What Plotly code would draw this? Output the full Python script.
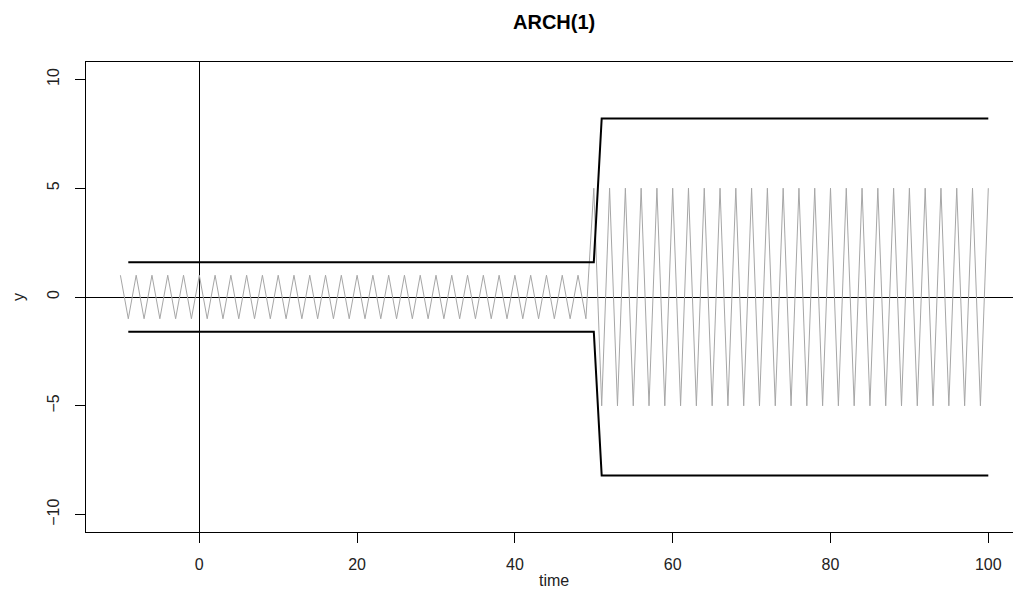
import plotly.graph_objects as go

# ---- data ----
time = list(range(-10, 101))
y_series = [
    1, -1, 1, -1, 1, -1, 1, -1, 1, -1,
    1, -1, 1, -1, 1, -1, 1, -1, 1, -1,
    1, -1, 1, -1, 1, -1, 1, -1, 1, -1,
    1, -1, 1, -1, 1, -1, 1, -1, 1, -1,
    1, -1, 1, -1, 1, -1, 1, -1, 1, -1,
    1, -1, 1, -1, 1, -1, 1, -1, 1, -1,
    5, -5, 5, -5, 5, -5, 5, -5, 5, -5,
    5, -5, 5, -5, 5, -5, 5, -5, 5, -5,
    5, -5, 5, -5, 5, -5, 5, -5, 5, -5,
    5, -5, 5, -5, 5, -5, 5, -5, 5, -5,
    5, -5, 5, -5, 5, -5, 5, -5, 5, -5,
    5,
]

band_time = list(range(-9, 101))
upper_band = [
    1.6, 1.6, 1.6, 1.6, 1.6, 1.6, 1.6, 1.6, 1.6, 1.6,
    1.6, 1.6, 1.6, 1.6, 1.6, 1.6, 1.6, 1.6, 1.6, 1.6,
    1.6, 1.6, 1.6, 1.6, 1.6, 1.6, 1.6, 1.6, 1.6, 1.6,
    1.6, 1.6, 1.6, 1.6, 1.6, 1.6, 1.6, 1.6, 1.6, 1.6,
    1.6, 1.6, 1.6, 1.6, 1.6, 1.6, 1.6, 1.6, 1.6, 1.6,
    1.6, 1.6, 1.6, 1.6, 1.6, 1.6, 1.6, 1.6, 1.6, 1.6,
    8.2, 8.2, 8.2, 8.2, 8.2, 8.2, 8.2, 8.2, 8.2, 8.2,
    8.2, 8.2, 8.2, 8.2, 8.2, 8.2, 8.2, 8.2, 8.2, 8.2,
    8.2, 8.2, 8.2, 8.2, 8.2, 8.2, 8.2, 8.2, 8.2, 8.2,
    8.2, 8.2, 8.2, 8.2, 8.2, 8.2, 8.2, 8.2, 8.2, 8.2,
    8.2, 8.2, 8.2, 8.2, 8.2, 8.2, 8.2, 8.2, 8.2, 8.2,
]
lower_band = [
    -1.6, -1.6, -1.6, -1.6, -1.6, -1.6, -1.6, -1.6, -1.6, -1.6,
    -1.6, -1.6, -1.6, -1.6, -1.6, -1.6, -1.6, -1.6, -1.6, -1.6,
    -1.6, -1.6, -1.6, -1.6, -1.6, -1.6, -1.6, -1.6, -1.6, -1.6,
    -1.6, -1.6, -1.6, -1.6, -1.6, -1.6, -1.6, -1.6, -1.6, -1.6,
    -1.6, -1.6, -1.6, -1.6, -1.6, -1.6, -1.6, -1.6, -1.6, -1.6,
    -1.6, -1.6, -1.6, -1.6, -1.6, -1.6, -1.6, -1.6, -1.6, -1.6,
    -8.2, -8.2, -8.2, -8.2, -8.2, -8.2, -8.2, -8.2, -8.2, -8.2,
    -8.2, -8.2, -8.2, -8.2, -8.2, -8.2, -8.2, -8.2, -8.2, -8.2,
    -8.2, -8.2, -8.2, -8.2, -8.2, -8.2, -8.2, -8.2, -8.2, -8.2,
    -8.2, -8.2, -8.2, -8.2, -8.2, -8.2, -8.2, -8.2, -8.2, -8.2,
    -8.2, -8.2, -8.2, -8.2, -8.2, -8.2, -8.2, -8.2, -8.2, -8.2,
]

x_ticks = [0, 20, 40, 60, 80, 100]
y_ticks = [-10, -5, 0, 5, 10]
title_text = "ARCH(1)"
x_label = "time"
y_label = "y"

FONT = "Liberation Sans, Arial, Helvetica, sans-serif"

fig = go.Figure()
fig.add_trace(go.Scatter(x=time, y=y_series, mode="lines",
                         line=dict(color="#A6A6A6", width=1), showlegend=False))
fig.add_trace(go.Scatter(x=band_time, y=upper_band, mode="lines",
                         line=dict(color="black", width=2), showlegend=False))
fig.add_trace(go.Scatter(x=band_time, y=lower_band, mode="lines",
                         line=dict(color="black", width=2), showlegend=False))

fig.update_layout(
    width=1013, height=612,
    margin=dict(l=86, r=0, t=62, b=80, pad=0),
    paper_bgcolor="white", plot_bgcolor="white",
    font=dict(family=FONT, size=16, color="black"),
    showlegend=False,
    xaxis=dict(
        range=[-14.36, 103.13], tickvals=x_ticks, ticks="outside", ticklen=10,
        tickcolor="black", tickwidth=1, showgrid=False,
        zeroline=True, zerolinecolor="black", zerolinewidth=1,
        showline=True, linecolor="black", linewidth=1, mirror=True,
        ticklabelstandoff=8,
        tickfont=dict(family=FONT, size=16, color="#222"),
    ),
    yaxis=dict(
        range=[-10.8, 10.8], tickvals=y_ticks, ticks="outside", ticklen=10,
        tickcolor="black", tickwidth=1, showgrid=False, tickangle=-90,
        zeroline=True, zerolinecolor="black", zerolinewidth=1,
        showline=True, linecolor="black", linewidth=1, mirror=False,
        ticklabelstandoff=10,
        tickfont=dict(family=FONT, size=16, color="#222"),
    ),
    annotations=[
        dict(text="<b>" + title_text + "</b>", xref="paper", yref="paper",
             x=0.505, y=1, yshift=40, showarrow=False, xanchor="center",
             yanchor="middle", font=dict(family=FONT, size=20, color="black")),
        dict(text=x_label, xref="paper", yref="paper", x=0.505, y=0,
             yshift=-48, showarrow=False, xanchor="center", yanchor="middle",
             font=dict(family=FONT, size=16, color="#222")),
        dict(text=y_label, xref="paper", yref="paper", x=0, y=0.5,
             xshift=-68, showarrow=False, xanchor="center", yanchor="middle",
             textangle=-90, font=dict(family=FONT, size=16, color="#222")),
    ],
)

fig.write_html("out.html")
